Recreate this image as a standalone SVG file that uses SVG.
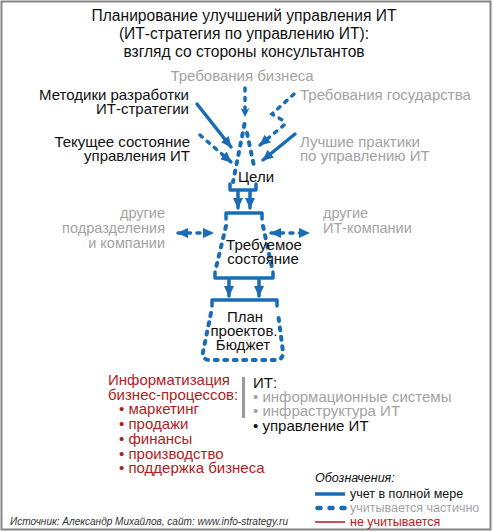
<svg xmlns="http://www.w3.org/2000/svg" width="493" height="532" viewBox="0 0 493 532">
<defs>
<style>
text{font-family:"Liberation Sans",Arial,sans-serif;}
.t{font-size:15px;fill:#111;}
.h{font-size:15.6px;fill:#111;}
.m{font-size:15px;fill:#111;}
.g{font-size:15px;fill:#a3a3a3;}
.r{font-size:15px;fill:#b01c22;}
.lg{font-size:12.5px;}
.s{stroke:#1a6db5;stroke-width:3.5;fill:none;stroke-linecap:round;stroke-linejoin:round;}
.d{stroke:#1a6db5;stroke-width:4;fill:none;stroke-linecap:round;stroke-dasharray:3 6.5;}
.ds{stroke:#1a6db5;stroke-width:3.5;fill:none;stroke-linecap:round;stroke-dasharray:3 6.5;}
</style>
<marker id="ah" markerUnits="userSpaceOnUse" markerWidth="12" markerHeight="10" refX="10" refY="5" orient="auto-start-reverse">
<path d="M0,0 L11,5 L0,10 z" fill="#1a6db5"/>
</marker>
<marker id="ahs" markerUnits="userSpaceOnUse" markerWidth="10" markerHeight="9" refX="8" refY="4.5" orient="auto">
<path d="M0,0 L9,4.5 L0,9 L2.5,4.5 z" fill="#1a6db5"/>
</marker>
</defs>
<rect x="1.5" y="1.5" width="489" height="528" fill="#fff" stroke="#858585" stroke-width="2"/>

<g id="title">
<text class="h" x="244" y="21" text-anchor="middle">Планирование улучшений управления ИТ</text>
<text class="h" x="244" y="39" text-anchor="middle">(ИТ-стратегия по управлению ИТ):</text>
<text class="h" x="244" y="57" text-anchor="middle">взгляд со стороны консультантов</text>
</g>

<g id="inputs">
<text class="g" x="242" y="81" text-anchor="middle">Требования бизнеса</text>
<text class="m" x="189" y="100" text-anchor="end">Методики разработки</text>
<text class="m" x="189" y="114" text-anchor="end">ИТ-стратегии</text>
<text class="g" x="300" y="100">Требования государства</text>
<text class="m" x="190" y="147" text-anchor="end">Текущее состояние</text>
<text class="m" x="190" y="161" text-anchor="end">управления ИТ</text>
<text class="g" x="300" y="147">Лучшие практики</text>
<text class="g" x="300" y="161">по управлению ИТ</text>
</g>

<g id="connectors">
<line class="ds" x1="245" y1="88" x2="245" y2="116" marker-end="url(#ahs)"/>
<line class="s" x1="197" y1="104" x2="231" y2="147" marker-end="url(#ah)"/>
<line class="ds" x1="200" y1="135" x2="231" y2="162" marker-end="url(#ah)"/>
<polyline class="ds" points="294,94 272,114 284,121 284,125 260,145" marker-end="url(#ah)"/>
<line class="s" x1="295" y1="134" x2="263" y2="160" marker-end="url(#ah)"/>
<line class="s" x1="238" y1="192" x2="238" y2="208" marker-end="url(#ah)"/>
<line class="s" x1="250" y1="192" x2="250" y2="208" marker-end="url(#ah)"/>
<line class="s" x1="229" y1="280" x2="229" y2="296" marker-end="url(#ah)"/>
<line class="s" x1="259" y1="280" x2="259" y2="296" marker-end="url(#ah)"/>
<line class="ds" x1="178" y1="233" x2="213" y2="233" marker-start="url(#ah)" marker-end="url(#ah)"/>
<line class="ds" x1="271" y1="233" x2="309" y2="233" marker-start="url(#ah)" marker-end="url(#ah)"/>
</g>

<g id="goals">
<line class="d" x1="244.5" y1="124" x2="233" y2="182"/>
<line class="d" x1="247" y1="133" x2="254" y2="166"/>
<path class="s" d="M230,184 V190 H256 V184"/>
<text class="m" x="256" y="182" text-anchor="middle">Цели</text>
</g>

<g id="target-state">
<path class="s" d="M226,219 V213 H262 V219"/>
<line class="d" x1="226" y1="226" x2="215" y2="272"/>
<line class="d" x1="263" y1="226" x2="273" y2="272"/>
<path class="s" d="M215,272 V278 H273 V272"/>
<text class="m" x="264" y="250" text-anchor="middle">Требуемое</text>
<text class="m" x="263" y="264" text-anchor="middle">состояние</text>
</g>

<g id="plan">
<path class="s" d="M212,306 V300 H277 V306"/>
<path class="d" d="M211,313 L203,352 Q202,360 210,360 L276,360 Q283,360 283,352 L278,313"/>
<text class="m" x="245" y="322" text-anchor="middle">План</text>
<text class="m" x="244" y="336" text-anchor="middle">проектов.</text>
<text class="m" x="243" y="350" text-anchor="middle">Бюджет</text>
</g>

<g id="others-left">
<text class="g" x="165" y="218" text-anchor="end" style="font-size:14.5px">другие</text>
<text class="g" x="165" y="233" text-anchor="end" style="font-size:14.5px">подразделения</text>
<text class="g" x="165" y="248" text-anchor="end" style="font-size:14.5px">и компании</text>
</g>
<g id="others-right">
<text class="g" x="323" y="218" style="font-size:14.5px">другие</text>
<text class="g" x="323" y="233" style="font-size:14.5px">ИТ-компании</text>
</g>

<g id="business">
<text class="r" x="108" y="385">Информатизация</text>
<text class="r" x="108" y="400">бизнес-процессов:</text>
<text class="r" x="119" y="414">• маркетинг</text>
<text class="r" x="119" y="429">• продажи</text>
<text class="r" x="119" y="444">• финансы</text>
<text class="r" x="119" y="459">• производство</text>
<text class="r" x="119" y="473">• поддержка бизнеса</text>
</g>

<rect x="242" y="377" width="3" height="41" fill="#9a9a9a"/>

<g id="it">
<text class="t" x="253" y="388">ИТ:</text>
<text class="t" x="253" y="402" style="fill:#a3a3a3">• информационные системы</text>
<text class="t" x="253" y="416" style="fill:#a3a3a3">• инфраструктура ИТ</text>
<text class="t" x="253" y="431">• управление ИТ</text>
</g>

<g id="legend">
<text class="lg" x="315" y="482" font-style="italic" fill="#111">Обозначения:</text>
<line x1="315" y1="494" x2="345" y2="494" stroke="#1a6db5" stroke-width="3.5"/>
<text class="lg" x="350" y="498" fill="#111">учет в полной мере</text>
<line x1="317.5" y1="508" x2="345" y2="508" stroke="#1a6db5" stroke-width="4.5" stroke-linecap="round" stroke-dasharray="3 9"/>
<text class="lg" x="350" y="512" fill="#a3a3a3">учитывается частично</text>
<line x1="315" y1="522" x2="345" y2="522" stroke="#c0141c" stroke-width="1.5"/>
<text class="lg" x="350" y="526" fill="#c0141c">не учитывается</text>
</g>

<text x="10" y="525" font-size="10.5" font-style="italic" fill="#333" textLength="278" lengthAdjust="spacingAndGlyphs">Источник: Александр Михайлов, сайт: www.info-strategy.ru</text>
</svg>
